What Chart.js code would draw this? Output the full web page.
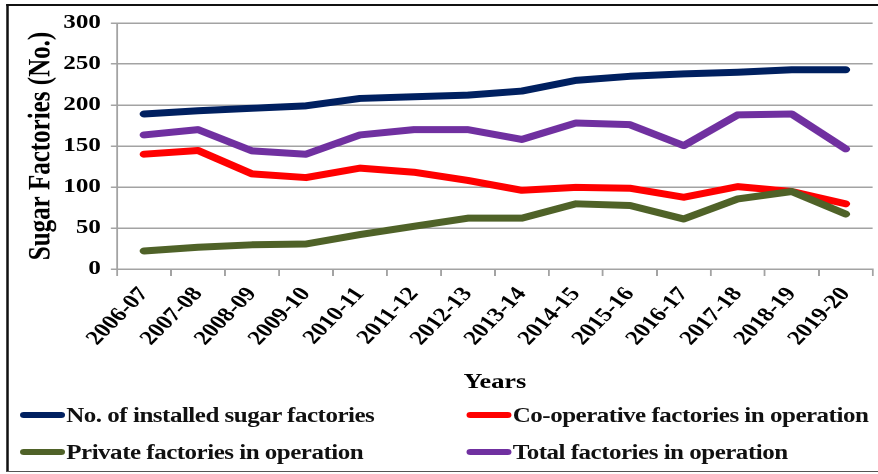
<!DOCTYPE html>
<html>
<head>
<meta charset="utf-8">
<script src="https://cdn.jsdelivr.net/npm/chart.js@4.4.1/dist/chart.umd.min.js"></script>
<style>
html,body{margin:0;padding:0;background:#fff;}
body{width:878px;height:474px;overflow:hidden;position:relative;}
/* the source picture is stretched sideways, so the whole chart is drawn narrower and scaled out */
#wrap{position:absolute;left:0;top:0;width:702px;height:474px;transform:scaleX(1.2507);transform-origin:0 0;}
.edge{position:absolute;background:#111;}
#box{position:absolute;left:0;top:0;width:702px;height:395px;}
#legend{position:absolute;left:0;top:0;width:702px;height:474px;font:bold 20px "Liberation Serif","Times New Roman",serif;letter-spacing:-0.4px;color:#111;pointer-events:none;}
.item{position:absolute;display:flex;align-items:center;white-space:nowrap;height:24px;line-height:24px;}
.item .mark{display:inline-block;width:36px;height:6px;border-radius:3px;margin-right:1px;}
.item:nth-child(1){left:16px;top:403px;}
.item:nth-child(2){left:373px;top:403px;}
.item:nth-child(3){left:16px;top:440px;}
.item:nth-child(4){left:373px;top:440px;}
</style>
</head>
<body>
<div id="wrap">
  <div class="edge" style="left:5.4px;top:4.3px;width:700px;height:1.6px;"></div>
  <div class="edge" style="left:5.4px;top:4.3px;width:1.3px;height:468px;"></div>
  <div class="edge" style="left:5.4px;top:470.6px;width:700px;height:1.4px;background:#555;"></div>
  <div id="box"><canvas id="myChart"></canvas></div>
  <div id="legend"></div>
</div>
<script>
const years = ['2006-07','2007-08','2008-09','2009-10','2010-11','2011-12','2012-13',
  '2013-14','2014-15','2015-16','2016-17','2017-18','2018-19','2019-20'];
const installed = [189, 193, 196, 199, 208, 210, 212, 217, 230, 235, 238, 240, 243, 243];
const coop = [140, 144.5, 116, 111.5, 123, 118, 108, 96, 99.5, 98.5, 87.5, 100.5, 94.5, 79.5];
const privateOps = [22, 26.5, 29.5, 30.5, 42, 52, 62, 62, 79.5, 77.5, 61, 85.5, 94.5, 67];
const total = [163.5, 170, 144, 140, 163.5, 170, 170, 158, 178, 176, 150.5, 188, 189, 146.5];
const yTicks = [0, 50, 100, 150, 200, 250, 300];

const serif = '"Liberation Serif", "Times New Roman", serif';
const gridGrey = '#a3a3a3';
// 51.3deg before the sideways stretch reads as 45deg after it
const labelTilt = 51.3;

function line(label, values, color, order) {
  return {
    label: label,
    data: values,
    borderColor: color,
    backgroundColor: color,
    borderWidth: 7,
    borderCapStyle: 'round',
    borderJoinStyle: 'round',
    pointRadius: 0,
    pointHoverRadius: 0,
    tension: 0,
    fill: false,
    order: order
  };
}

const data = {
  labels: years,
  datasets: [
    line('No. of installed sugar factories', installed, '#002060', 4),
    line('Co-operative factories in operation', coop, '#ff0000', 3),
    line('Private factories in operation', privateOps, '#4f6228', 2),
    line('Total factories in operation', total, '#7030a0', 1)
  ]
};

const config = {
  type: 'line',
  data,
  options: {
    responsive: true,
    maintainAspectRatio: false,
    animation: false,
    devicePixelRatio: 2,
    layout: { padding: { left: 15.2, top: 23, right: 0, bottom: 0 } },
    plugins: {
      legend: { display: false },
      tooltip: { enabled: false }
    },
    scales: {
      x: {
        offset: true,
        grid: {
          drawOnChartArea: false,
          drawTicks: true,
          tickLength: 7,
          offset: true,
          color: gridGrey,
          lineWidth: 1.5
        },
        border: { color: gridGrey, width: 1.5 },
        ticks: {
          autoSkip: false,
          minRotation: labelTilt,
          maxRotation: labelTilt,
          padding: 7,
          color: '#000',
          font: { family: serif, size: 20, weight: 'bold' }
        },
        title: {
          display: true,
          text: 'Years',
          color: '#000',
          font: { family: serif, size: 21, weight: 'bold' },
          padding: { top: 0, bottom: 0 }
        },
        afterFit(scale) { scale.height = 126; }
      },
      y: {
        min: 0,
        max: 300,
        afterBuildTicks(scale) { scale.ticks = yTicks.map(v => ({ value: v })); },
        grid: { color: gridGrey, lineWidth: 1.5, tickLength: 5 },
        border: { color: gridGrey, width: 1.5 },
        ticks: {
          padding: 8,
          color: '#000',
          font: { family: serif, size: 20, weight: 'bold' }
        },
        title: {
          display: true,
          text: 'Sugar Factories (No.)',
          color: '#000',
          font: { family: serif, size: 25, weight: 'bold' },
          padding: 3
        },
        afterFit(scale) { scale.width = 78.4; }
      }
    }
  }
};

const myChart = new Chart(document.getElementById('myChart'), config);

// legend in two columns, like the spreadsheet one
const legendEl = document.getElementById('legend');
legendEl.innerHTML = data.datasets.map(ds =>
  `<div class="item"><span class="mark" style="background:${ds.borderColor}"></span>${ds.label}</div>`
).join('');
</script>
</body>
</html>
